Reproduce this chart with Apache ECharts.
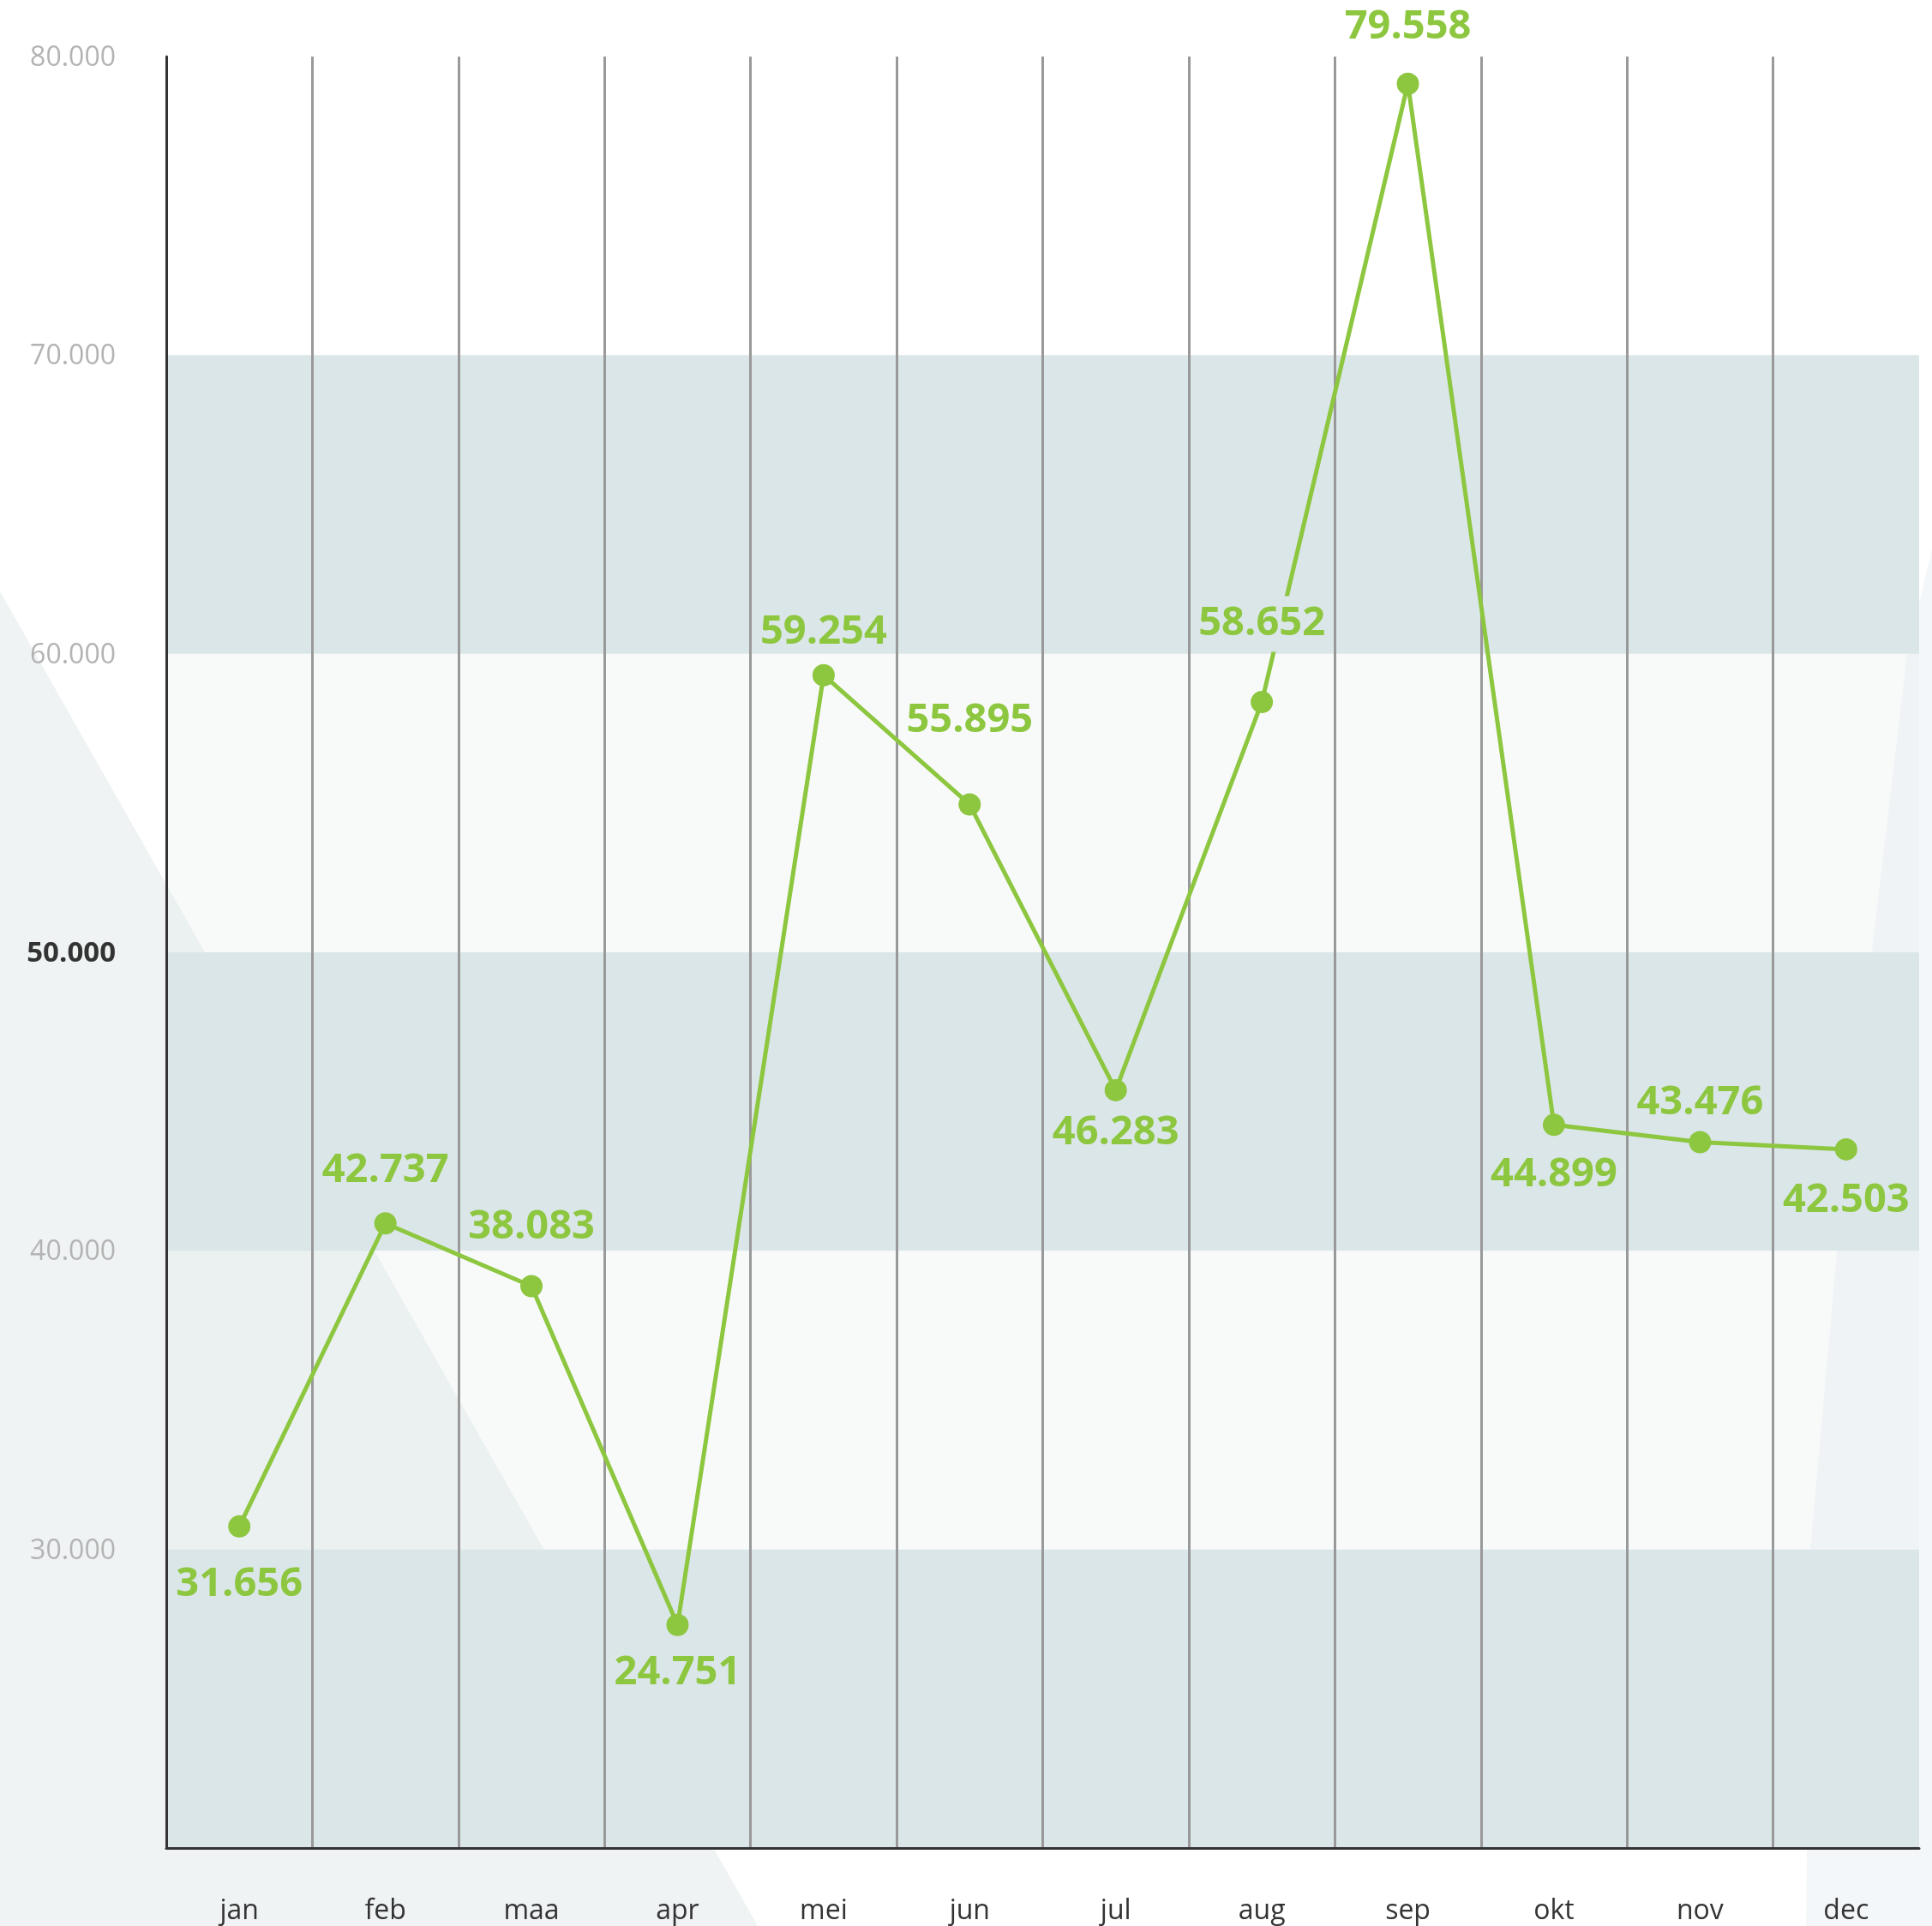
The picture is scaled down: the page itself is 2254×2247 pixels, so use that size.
<!DOCTYPE html>
<html>
<head>
<meta charset="utf-8">
<script src="https://cdn.jsdelivr.net/npm/echarts@6/dist/echarts.min.js"></script>
<style>
  html, body { margin: 0; padding: 0; background: #ffffff; }
  #chart { width: 2254px; height: 2247px; }
</style>
</head>
<body>
<div id="chart"></div>
<script>
// ---- data ----
const months = ['jan', 'feb', 'maa', 'apr', 'mei', 'jun', 'jul', 'aug', 'sep', 'okt', 'nov', 'dec'];
// plotted values (read from point positions)
const values = [30770, 40920, 38820, 27470, 59280, 54950, 45380, 58380, 79090, 44220, 43640, 43400];
// value labels as printed on the chart
const valueLabels = ['31.656', '42.737', '38.083', '24.751', '59.254', '55.895', '46.283', '58.652', '79.558', '44.899', '43.476', '42.503'];
// y-axis range / ticks
const yMin = 20000;
const yMax = 80000;
const yStep = 10000;
const yHighlightTick = 50000;

// ---- layout / style (not data) ----
const GREEN = '#8dc63f';
const BAND_DARK = '#dbe6e8';
const BAND_LIGHT = 'rgba(219,230,232,0.2)';
const labelOffsetY = [68, -62, -69, 56, -50, -98, 50, -91, -66, 58, -46, 60];
const labelBoxedIndex = 7;

function fmtThousands(v) {
  const k = Math.floor(v / 1000);
  const r = String(Math.round(v % 1000)).padStart(3, '0');
  return k + '.' + r;
}

const seriesData = values.map(function (v, i) {
  if (i === labelBoxedIndex) {
    return { value: v, label: { backgroundColor: BAND_DARK, padding: [9, 0] } };
  }
  return v;
});

const chart = echarts.init(document.getElementById('chart'), null, { renderer: 'canvas' });

chart.setOption({
  backgroundColor: '#ffffff',
  animation: false,
  graphic: {
    elements: [
      {
        type: 'polygon', z: -10, silent: true,
        shape: { points: [[0, 690], [884, 2247], [0, 2247]] },
        style: { fill: '#eff3f4' }
      },
      {
        type: 'polygon', z: -10, silent: true,
        shape: { points: [[2254, 640], [2225, 763], [2185, 1100], [2143, 1462], [2112, 1809], [2107, 2247], [2254, 2247]] },
        style: { fill: '#f4f7f9' }
      }
    ]
  },
  grid: {
    left: 194, right: 15, top: 66, bottom: 91,
    containLabel: false,
    outerBoundsMode: 'none'
  },
  xAxis: {
    type: 'category',
    data: months,
    boundaryGap: true,
    axisLine: { show: true, lineStyle: { color: '#333333', width: 3 } },
    axisTick: { show: false },
    axisLabel: {
      color: '#333333',
      fontFamily: 'Open Sans',
      fontSize: 32,
      margin: 58,
      interval: 0
    },
    splitLine: {
      show: true,
      showMinLine: false,
      showMaxLine: false,
      interval: 0,
      lineStyle: { color: '#999999', width: 3 }
    }
  },
  yAxis: {
    type: 'value',
    min: yMin,
    max: yMax,
    interval: yStep,
    axisLine: { show: true, lineStyle: { color: '#333333', width: 3 } },
    axisTick: { show: false },
    splitLine: { show: false },
    splitArea: {
      show: true,
      areaStyle: { color: [BAND_DARK, BAND_LIGHT, BAND_DARK, BAND_LIGHT, BAND_DARK, 'rgba(255,255,255,0)'] }
    },
    axisLabel: {
      showMinLabel: false,
      margin: 59,
      fontFamily: 'Open Sans',
      fontSize: 32,
      color: '#b3b3b3',
      formatter: function (v) {
        const s = fmtThousands(v);
        return v === yHighlightTick ? '{b|' + s + '}' : '{g|' + s + '}';
      },
      rich: {
        g: { color: '#b3b3b3', fontFamily: 'Open Sans', fontSize: 32, padding: [4, 0, 0, 0] },
        b: { color: '#333333', fontFamily: 'Open Sans', fontSize: 33, fontWeight: 'bold', padding: [4, 0, 0, 0] }
      }
    }
  },
  series: [{
    type: 'line',
    data: seriesData,
    symbol: 'circle',
    symbolSize: 26,
    lineStyle: { color: GREEN, width: 5 },
    itemStyle: { color: GREEN },
    label: {
      show: true,
      position: 'inside',
      color: GREEN,
      fontFamily: 'Open Sans',
      fontWeight: 'bold',
      fontSize: 47,
      formatter: function (p) { return valueLabels[p.dataIndex]; }
    },
    labelLayout: function (params) {
      return { dy: labelOffsetY[params.dataIndex], hideOverlap: false };
    }
  }]
});
</script>
</body>
</html>
